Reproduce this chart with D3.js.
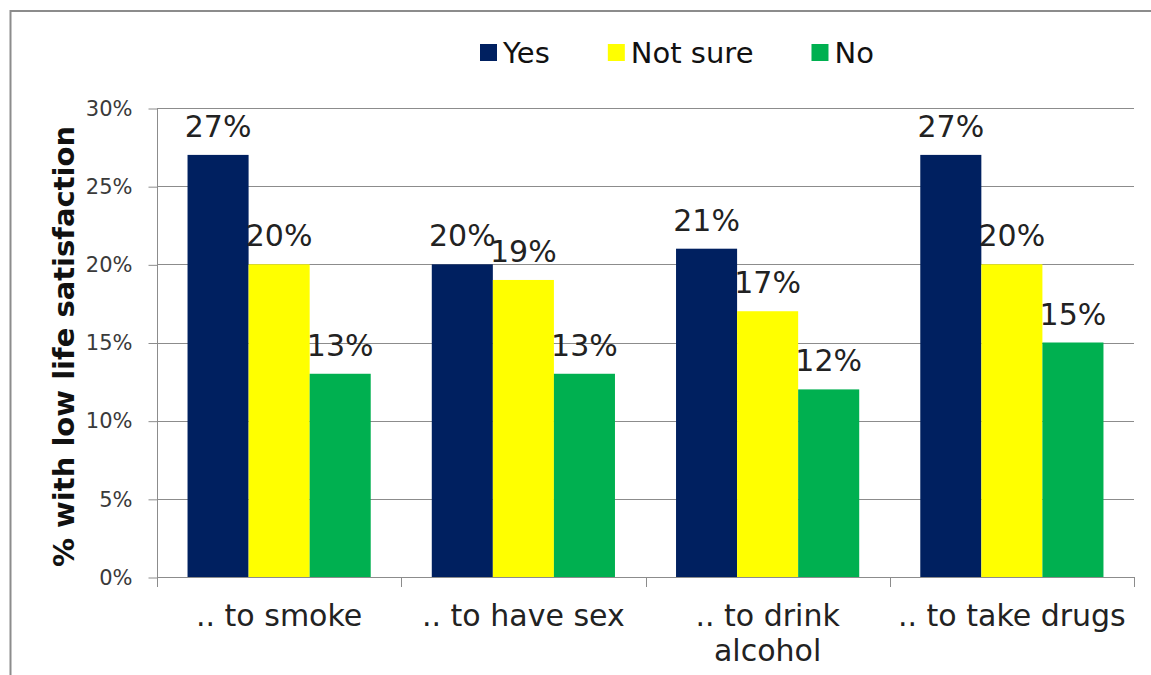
<!DOCTYPE html>
<html>
<head>
<meta charset="utf-8">
<script src="https://cdn.jsdelivr.net/npm/d3@7"></script>
<style>
  html, body { margin: 0; padding: 0; background: #fff; }
  svg { display: block; font-family: "DejaVu Sans", Verdana, sans-serif; }
</style>
</head>
<body>
<svg id="chart" width="1151" height="675"></svg>
<script>
const categories = [[".. to smoke"], [".. to have sex"], [".. to drink", "alcohol"], [".. to take drugs"]];
const seriesNames = ["Yes", "Not sure", "No"];
const seriesColors = ["#002060", "#FFFF00", "#00B050"];
const yesValues = [27, 20, 21, 27];
const notSureValues = [20, 19, 17, 20];
const noValues = [13, 13, 12, 15];
const yTicks = [0, 5, 10, 15, 20, 25, 30];
const yTitle = "% with low life satisfaction";

const series = [yesValues, notSureValues, noValues];

const svg = d3.select("#chart");
const m = { left: 157, right: 1134, top: 108, bottom: 577 };

// outer frame
svg.append("rect").attr("x", 10.5).attr("y", 11).attr("width", 1160).attr("height", 700)
  .attr("fill", "#fff").attr("stroke", "#8c8c8c").attr("stroke-width", 2);

const x0 = d3.scaleBand().domain(d3.range(categories.length)).range([m.left, m.right]).padding(0);
const x1 = d3.scaleBand().domain(d3.range(seriesNames.length))
  .range([x0.bandwidth() * 0.125, x0.bandwidth() * 0.875]).padding(0);
const y = d3.scaleLinear().domain([0, 30]).range([m.bottom, m.top]);

// gridlines
svg.append("g").selectAll("line").data(yTicks.filter(t => t > 0)).join("line")
  .attr("x1", m.left).attr("x2", m.right)
  .attr("y1", d => Math.round(y(d)) + 0.5).attr("y2", d => Math.round(y(d)) + 0.5)
  .attr("stroke", "#8c8c8c").attr("stroke-width", 1);

// y axis
const yAxis = d3.axisLeft(y).tickValues(yTicks).tickFormat(d => d + "%").tickSize(9).tickPadding(16);
const gy = svg.append("g").attr("transform", `translate(${m.left + 0.5},0.5)`).call(yAxis);
gy.select(".domain").attr("stroke", "#8c8c8c").attr("d", `M0,${m.top}V${m.bottom}`);
gy.selectAll(".tick line").attr("stroke", "#8c8c8c");
gy.selectAll(".tick text").attr("font-size", 21).attr("fill", "#3a3a3a")
  .attr("font-family", "DejaVu Sans, Verdana, sans-serif");

// x axis line & ticks
svg.append("line").attr("x1", m.left).attr("x2", m.right + 1)
  .attr("y1", m.bottom + 0.5).attr("y2", m.bottom + 0.5).attr("stroke", "#8c8c8c");
svg.append("g").selectAll("line").data(d3.range(categories.length + 1)).join("line")
  .attr("x1", i => Math.round(i < categories.length ? x0(i) : m.right) + 0.5)
  .attr("x2", i => Math.round(i < categories.length ? x0(i) : m.right) + 0.5)
  .attr("y1", m.bottom).attr("y2", m.bottom + 10).attr("stroke", "#8c8c8c");

// bars
const groups = svg.append("g").selectAll("g").data(categories).join("g")
  .attr("transform", (d, i) => `translate(${x0(i)},0)`);
groups.selectAll("rect").data((d, i) => series.map((s, k) => ({ k, v: s[i] }))).join("rect")
  .attr("x", d => x1(d.k)).attr("width", x1.bandwidth())
  .attr("y", d => y(d.v)).attr("height", d => y(0) - y(d.v))
  .attr("fill", d => seriesColors[d.k]);
groups.selectAll("text.lbl").data((d, i) => series.map((s, k) => ({ k, v: s[i] }))).join("text")
  .attr("class", "lbl")
  .attr("x", d => x1(d.k) + x1.bandwidth() / 2).attr("y", d => y(d.v) - 18)
  .attr("text-anchor", "middle").attr("font-size", 30).attr("fill", "#222")
  .text(d => d.v + "%");

// category labels
const cl = svg.append("g").selectAll("text").data(categories).join("text")
  .attr("x", (d, i) => x0(i) + x0.bandwidth() / 2).attr("y", 626)
  .attr("text-anchor", "middle").attr("font-size", 30).attr("fill", "#222");
cl.selectAll("tspan").data(d => d).join("tspan")
  .attr("x", function () { return d3.select(this.parentNode).attr("x"); })
  .attr("dy", (d, j) => j === 0 ? 0 : 35).text(d => d);

// y title
svg.append("text").attr("transform", `translate(74,${(m.top + m.bottom) / 2 + 4}) rotate(-90)`)
  .attr("text-anchor", "middle").attr("font-size", 29).attr("font-weight", "bold").attr("fill", "#111")
  .text(yTitle);

// legend
const lg = svg.append("g");
let lx = 480;
seriesNames.forEach((name, k) => {
  lg.append("rect").attr("x", lx).attr("y", 44).attr("width", 17).attr("height", 17).attr("fill", seriesColors[k]);
  const t = lg.append("text").attr("x", lx + 23).attr("y", 63).attr("font-size", 29).attr("fill", "#111").text(name);
  lx += 23 + t.node().getComputedTextLength() + 58;
});
</script>
</body>
</html>
